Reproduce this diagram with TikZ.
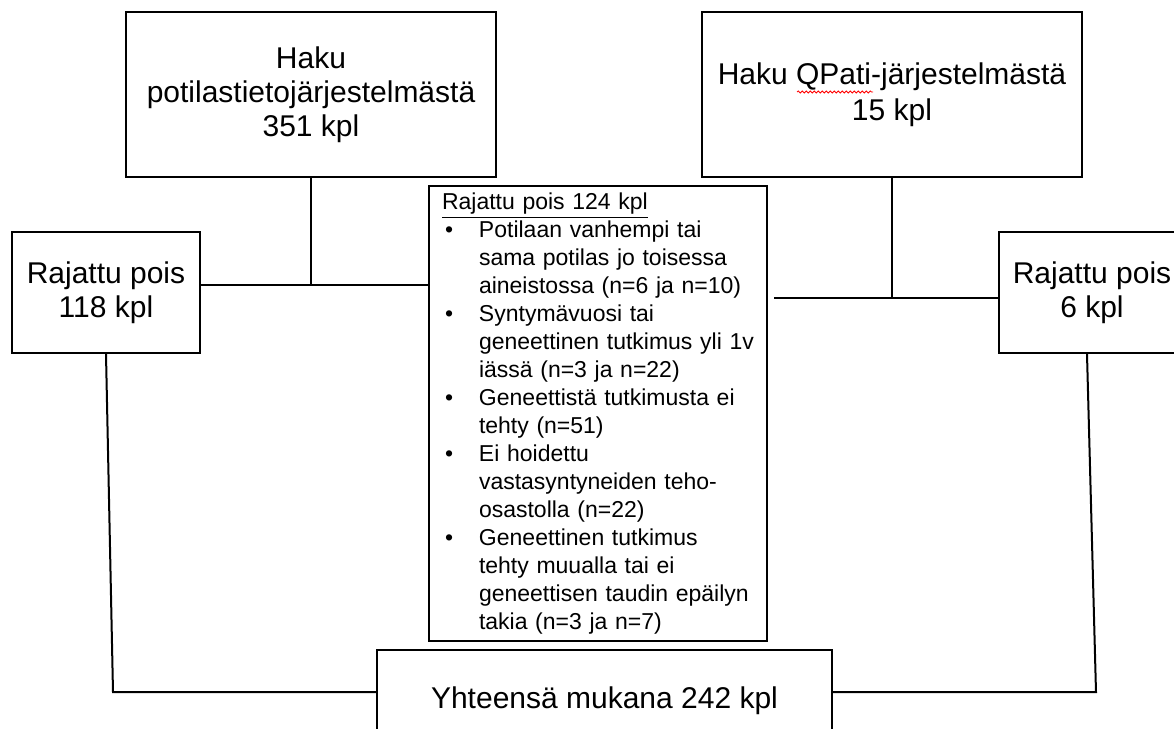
\documentclass[tikz,border=0pt]{standalone}
\usepackage{fontspec}
\setmainfont{Liberation Sans}
\usetikzlibrary{decorations.pathmorphing}
\newcommand{\bul}{\makebox[18.5pt][l]{\hspace{1.5pt}\textbullet}}
\newcommand{\ind}{\hspace*{18.5pt}}
\begin{document}
\begin{tikzpicture}[x=0.5pt,y=-0.5pt,line width=1pt,
  box/.style={draw,align=center,inner sep=0pt,font=\fontsize{15}{17}\selectfont},
  listbox/.style={draw,align=left,text width=156pt,inner xsep=6.5pt,inner ysep=0pt,
    font=\fontsize{11.5}{14}\selectfont},
  spellwave/.style={draw=red,line width=0.4pt,decorate,
    decoration={snake,amplitude=0.5pt,segment length=2pt}}]
\useasboundingbox (0,0) rectangle (1174,729);

\node[box,minimum width=185pt,minimum height=82.5pt] (hakuA) at (311,94.5)
  {Haku\\potilastietojärjestelmästä\\351 kpl};
\node[box,minimum width=190pt,minimum height=82.5pt,font=\fontsize{15}{18}\selectfont] (hakuB) at (892,94.5)
  {Haku QPati-järjestelmästä\\15 kpl};
\draw[spellwave] (797,92) -- (873,92);

\node[box,minimum width=94pt,minimum height=60.5pt] (leftOut) at (106,292.5)
  {Rajattu pois\\118 kpl};
\node[box,minimum width=93pt,minimum height=60.5pt] (rightOut) at (1092,292.5)
  {Rajattu pois\\6 kpl};

\node[listbox,minimum height=227.5pt] (mid) at (598,413.5)
  {\underline{Rajattu pois 124 kpl}\\
   \bul Potilaan vanhempi tai\\
   \ind sama potilas jo toisessa\\
   \ind aineistossa (n=6 ja n=10)\\
   \bul Syntymävuosi tai\\
   \ind geneettinen tutkimus yli 1v\\
   \ind iässä (n=3 ja n=22)\\
   \bul Geneettistä tutkimusta ei\\
   \ind tehty (n=51)\\
   \bul Ei hoidettu\\
   \ind vastasyntyneiden teho-\\
   \ind osastolla (n=22)\\
   \bul Geneettinen tutkimus\\
   \ind tehty muualla tai ei\\
   \ind geneettisen taudin epäilyn\\
   \ind takia (n=3 ja n=7)};

\node[box,minimum width=227.5pt,minimum height=51pt] (total) at (604.5,701)
  {Yhteensä mukana 242 kpl};

% liitokset
\coordinate (jA) at (311,285);
\coordinate (jB) at (892,298);
\coordinate (kA) at (113,692);
\coordinate (kB) at (1096,692);

\draw (hakuA.south) -- (jA);
\draw (leftOut.east |- jA) -- (mid.west |- jA);
\draw (hakuB.south) -- (jB);
\draw[shorten <=3pt] (mid.east |- jB) -- (rightOut.west |- jB);
\draw (leftOut.south) -- (kA) -- (total.west |- kA);
\draw ([xshift=-2.5pt]rightOut.south) -- (kB) -- (total.east |- kB);
\end{tikzpicture}
\end{document}
